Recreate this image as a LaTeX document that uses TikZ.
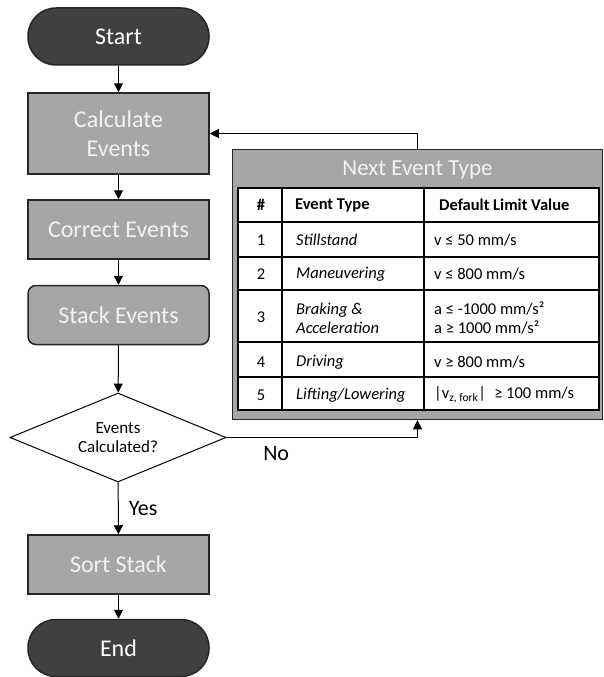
\documentclass[tikz,border=0pt]{standalone}
\usepackage{fontspec}
\setmainfont{Carlito}
\usetikzlibrary{positioning,shapes.geometric,arrows.meta}
\definecolor{TermGray}{RGB}{64,64,64}
\definecolor{ProcGray}{RGB}{166,166,166}
\definecolor{EdgeDark}{RGB}{38,38,38}
\definecolor{SoftWhite}{RGB}{242,242,242}
\tikzset{
  term/.style={draw=EdgeDark,fill=TermGray,text=white,line width=1.5pt,rounded corners=28pt,
    minimum width=181pt,minimum height=57pt,font=\fontsize{24}{29}\selectfont},
  proc/.style={draw=EdgeDark,fill=ProcGray,text=SoftWhite,line width=1.5pt,align=center,
    minimum width=181pt,minimum height=59pt,font=\fontsize{24}{29}\selectfont},
  query/.style={diamond,draw=black,fill=white,line width=1pt,aspect=2.4,inner sep=0pt,
    minimum width=216pt,minimum height=89pt,align=center,font=\fontsize{17}{19}\selectfont},
  flow/.style={draw=black,line width=1pt,-{Triangle[length=9pt,width=9pt]}},
  lbl/.style={font=\fontsize{22}{26}\selectfont,inner sep=0pt},
  frame/.style={draw=EdgeDark,fill=ProcGray,line width=1.5pt,minimum width=370pt,minimum height=270pt},
  grid/.style={draw=black,fill=white,line width=1.5pt,minimum width=361pt,minimum height=222pt},
  rule/.style={draw=black,line width=1.5pt},
  cell/.style={inner sep=0pt,font=\fontsize{16.5}{19}\selectfont},
  head/.style={cell,font=\fontsize{16.5}{19}\bfseries},
}

\begin{document}
\begin{tikzpicture}[x=1pt,y=-1pt]
\useasboundingbox (0,0) rectangle (603,677);
% flow chart
\node[term] (start) at (118.5,36.5) {Start};
\node[proc,minimum height=81pt] (calc) at (118.5,133.5) {Calculate\\Events};
\node[proc] (corr) at (118.5,229.5) {Correct Events};
\node[proc,rounded corners=8pt] (stack) at (118.5,315) {Stack Events};
\node[query] (done) at (118,437.5) {Events\\Calculated?};
\node[proc] (sort) at (118.5,564.5) {Sort Stack};
\node[term] (stop) at (118.5,648) {End};
% next event type table
\node[frame] (next) at (417.5,284.5) {};
\node[font=\fontsize{23}{27}\selectfont,text=SoftWhite] (nexttitle) at (417.5,170) {Next Event Type};
\node[grid] (tab) at (418.5,299) {};
\foreach \y in {222,257,290,342,377}
  \draw[rule] (238,\y) -- (599,\y);
\foreach \x in {282,424}
  \draw[rule] (\x,188) -- (\x,410);
\node[head] (hnum) at (261,205) {\#};
\node[head,anchor=west] (htype) at (295,205) {Event Type};
\node[head,anchor=west] (hval) at (439,205) {Default Limit Value};
\foreach \y/\n/\t/\v in {240/1/Stillstand/{v ≤ 50 mm/s},
    274/2/Maneuvering/{v ≤ 800 mm/s},
    362/4/Driving/{v ≥ 800 mm/s},
    395/5/Lifting\slash Lowering/{|v\textsubscript{z, fork}|\enspace ≥ 100 mm/s}} {
  \node[cell] (num\n) at (261,\y) {\n};
  \node[cell,anchor=west] (type\n) at (296,\y) {\itshape\t};
  \node[cell,anchor=west] (val\n) at (434,\y) {\v};
}
\node[cell] (num3) at (261,317) {3};
\node[cell,anchor=west,align=left] (type3) at (296,318) {\itshape Braking \&\\\itshape Acceleration};
\node[cell,anchor=west,align=left] (val3) at (434,318) {a ≤ -1000 mm/s²\\a ≥ 1000 mm/s²};
% connectors
\draw[flow] (start) -- (calc);
\draw[flow] (calc) -- (corr);
\draw[flow] (corr) -- (stack);
\draw[flow] (stack) -- (done);
\draw[flow] (done) -- node[lbl,right=10pt] {Yes} (sort);
\draw[flow] (sort) -- (stop);
\draw[flow] (next.north) |- (calc.east);
\draw[flow] (done.east) -| node[lbl,pos=0.13,below=8pt] {No} (next.south);
\end{tikzpicture}
\end{document}
